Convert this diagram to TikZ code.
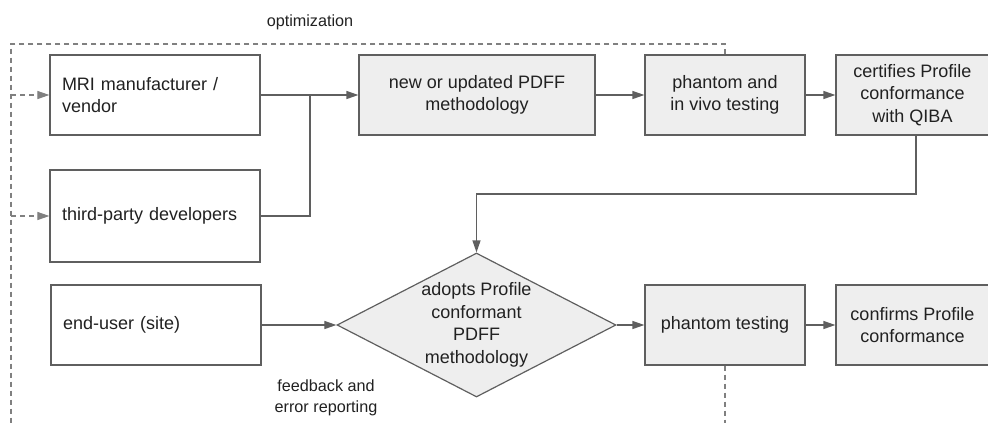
\documentclass[tikz,border=0pt]{standalone}
\usepackage{fontspec}
\setmainfont{Liberation Sans}
\usetikzlibrary{shapes.geometric,arrows.meta}

\begin{document}
\begin{tikzpicture}[x=1pt,y=-1pt,
  box/.style={draw=linegray,line width=1.2pt,fill=white,inner sep=0pt,
    minimum height=80pt,text=textgray},
  stage/.style={box,fill=fillgray,align=center},
  actor/.style={box,text width=186pt,minimum width=210pt,align=left},
  note/.style={text=textgray,align=center,font=\fontsize{16.2}{20.5}\selectfont},
  link/.style={draw=linegray,line width=1.2pt},
  flow/.style={link,-{Triangle[length=12pt,width=8pt]}},
  loop/.style={draw=dashgray,line width=1.1pt,dash pattern=on 5pt off 4pt},
  loopflow/.style={loop,-{Triangle[length=12pt,width=8pt]}}]
\fontsize{18}{22.5}\selectfont
\definecolor{linegray}{HTML}{5F5F5F}
\definecolor{dashgray}{HTML}{808080}
\definecolor{fillgray}{HTML}{EEEEEE}
\definecolor{textgray}{HTML}{212121}
\useasboundingbox (0,0) rectangle (988,423);

% who brings a method in
\node[actor] (vendor) at (155,95) {MRI manufacturer /\\vendor};
\node[actor,minimum height=92pt] (thirdparty) at (155,216) {third-party developers};
\node[actor] (enduser) at (156,325) {end-user (site)};

% upper row: development and certification
\node[stage,minimum width=236pt] (method) at (477,95) {new or updated PDFF\\methodology};
\node[stage,minimum width=160pt] (vivotest) at (725,95) {phantom and\\in vivo testing};
\node[stage,minimum width=153pt] (certify) at (912.5,95) {certifies Profile\\conformance\\with QIBA};

% lower row: use at the site
\node[stage,diamond,aspect=1.94,minimum width=279pt,minimum height=144pt]
  (adopt) at (476.5,325) {adopts Profile\\conformant\\PDFF\\methodology};
\node[stage,minimum width=160pt] (phantest) at (725,325) {phantom testing};
\node[stage,minimum width=153pt] (confirm) at (912.5,325) {confirms Profile\\conformance};

% labels on the dashed loops
\node[note] (optlabel) at (310,22) {optimization};
\node[note] (fblabel) at (326,398) {feedback and\\error reporting};

\coordinate (merge) at (310,95);
\coordinate (turn) at (476.5,194);
\coordinate (loopright) at (725,44);
\coordinate (loopleft) at (11,44);
\coordinate (loopbottom) at (11,423);
\coordinate (tapvendor) at (11,95);
\coordinate (tapthird) at (11,216);
\coordinate (fbend) at (725,423);

% solid flow
\draw[flow] (vendor) -- (method);
\draw[link] (thirdparty) -| (merge);
\draw[flow] (method) -- (vivotest);
\draw[flow] (vivotest) -- (certify);
\draw[flow] ([xshift=3.5pt]certify.south) |- (turn) -- (adopt.north);
\draw[flow] (enduser) -- (adopt);
\draw[flow] (adopt) -- (phantest);
\draw[flow] (phantest) -- (confirm);

% dashed feedback
\draw[loop] (vivotest.north) -- (loopright) -- (loopleft) -- (loopbottom);
\draw[loopflow] (tapvendor) -- (vendor);
\draw[loopflow] (tapthird) -- (thirdparty);
\draw[loop] (phantest.south) -- (fbend);
\end{tikzpicture}
\end{document}
